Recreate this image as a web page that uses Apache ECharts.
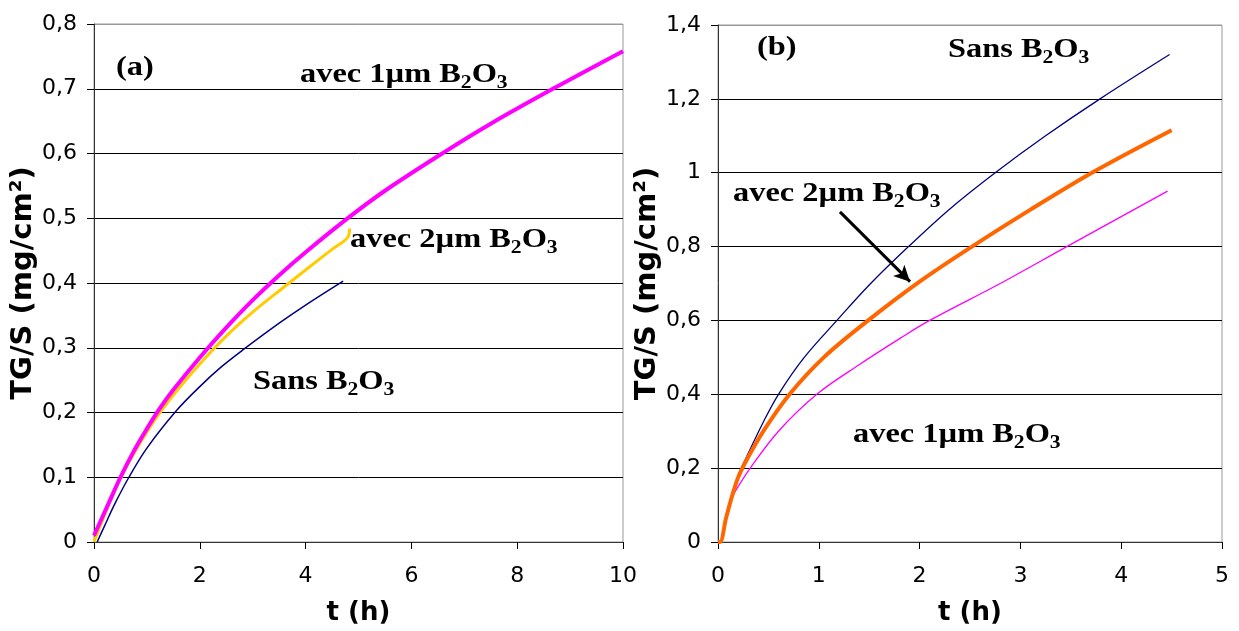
<!DOCTYPE html>
<html>
<head>
<meta charset="utf-8">
<script src="https://cdn.jsdelivr.net/npm/echarts@6/dist/echarts.min.js"></script>
<style>html,body{margin:0;padding:0;background:#fff;}#c{width:1239px;height:631px;}</style>
</head>
<body>
<div id="c"></div>
<script>
// ---- Panel (a) data: [t (h), TG/S (mg/cm²)]
const aAvec1um = [[0,0.01],[0.25,0.055],[0.5,0.1],[0.75,0.14],[1,0.175],[1.25,0.207],[1.5,0.235],[2,0.285],[2.5,0.331],[3,0.3735],[3.5,0.412],[4,0.4475],[4.78,0.499],[5.5,0.5425],[6.6,0.601],[7.5,0.646],[8.7,0.701],[10,0.758]];
const aAvec2um = [[0,0],[0.25,0.052],[0.5,0.098],[0.75,0.136],[1,0.17],[1.25,0.2],[1.5,0.227],[2,0.275],[2.5,0.318],[3,0.355],[3.58,0.393],[4,0.42],[4.5,0.452],[4.8,0.471],[4.83,0.484]];
const aSans = [[0.06,0],[0.2,0.025],[0.4,0.06],[0.66,0.1],[1,0.145],[1.56,0.203],[2,0.24],[2.4,0.27],[2.82,0.297],[3.5,0.338],[4,0.366],[4.71,0.403]];
// ---- Panel (b) data
const bSans = [[0,0],[0.02,0],[0.08,0.065],[0.14,0.13],[0.2,0.18],[0.3,0.24],[0.45,0.325],[0.6,0.4],[0.85,0.498],[1.18,0.6],[1.5,0.696],[1.89,0.8],[2.3,0.902],[2.75,1.0],[3.25,1.1],[3.79,1.2],[4.48,1.32]];
const bAvec2um = [[0,0],[0.02,0],[0.08,0.065],[0.14,0.125],[0.2,0.175],[0.28,0.22],[0.45,0.3],[0.71,0.4],[1.05,0.5],[1.49,0.6],[2.0,0.705],[2.52,0.8],[3.1,0.9],[3.71,1.0],[4.5,1.115]];
const bAvec1um = [[0,0],[0.02,0],[0.08,0.065],[0.13,0.115],[0.2,0.15],[0.32,0.2],[0.6,0.3],[0.98,0.4],[1.4,0.48],[1.81,0.552],[2.1,0.6],[2.8,0.7],[3.46,0.8],[4.46,0.95]];
const arrowFrom = [1.21, 0.894];
const arrowTo = [1.905, 0.705];
// ---- axis settings
const aX = {min:0, max:10, interval:2};
const aY = {min:0, max:0.8, interval:0.1};
const bX = {min:0, max:5, interval:1};
const bY = {min:0, max:1.4, interval:0.2};
const xName = 't (h)';
const yName = 'TG/S (mg/cm²)';

const fmt = v => String(+v.toFixed(2)).replace('.', ',');
const labelStyle = {fontFamily:'DejaVu Sans', fontSize:22, color:'#000'};
const nameStyle = {fontFamily:'DejaVu Sans', fontSize:26, fontWeight:'bold', color:'#000'};
const yNameStyle = {fontFamily:'DejaVu Sans', fontSize:29, fontWeight:'bold', color:'#000'};

function xAxis(grid, s){
  return {type:'value', gridIndex:grid, min:s.min, max:s.max, interval:s.interval,
    name:xName, nameLocation:'middle', nameGap:58, nameTextStyle:nameStyle,
    axisLine:{show:true, onZero:false, lineStyle:{color:'#333', width:1}},
    axisTick:{show:true, inside:false, length:7, lineStyle:{color:'#000'}},
    axisLabel:{...labelStyle, margin:23, formatter:fmt},
    splitLine:{show:false}};
}
function yAxis(grid, s, n, gap){
  const cols = [];
  for (let i=0;i<n;i++) cols.push(i===n-1 ? '#999' : '#000');
  return {type:'value', gridIndex:grid, min:s.min, max:s.max, interval:s.interval,
    name:yName, nameLocation:'middle', nameRotate:90, nameGap:gap, nameTextStyle:yNameStyle,
    axisLine:{show:true, onZero:false, lineStyle:{color:'#333', width:1}},
    axisTick:{show:true, inside:false, length:7, lineStyle:{color:'#000'}},
    axisLabel:{...labelStyle, margin:17, formatter:fmt},
    splitLine:{show:true, lineStyle:{color:cols, width:1}}};
}
function line(name, data, color, width, xi, yi, extra){
  return Object.assign({type:'line', name, data, xAxisIndex:xi, yAxisIndex:yi, smooth:0.35,
    showSymbol:false, symbol:'none', lineStyle:{color, width}, itemStyle:{color}, z:3, animation:false}, extra||{});
}

const serif = 'Liberation Serif';
const rich = {
  m:{fontFamily:serif, fontSize:27, fontWeight:'bold', color:'#000', lineHeight:30, verticalAlign:'top'},
  s:{fontFamily:serif, fontSize:18, fontWeight:'bold', color:'#000', lineHeight:18, verticalAlign:'bottom'}
};
function lbl(text, x, y){
  return {type:'text', x:x, y:y, scaleX:1.2, scaleY:1, z:10, style:{text, rich, font:'bold 27px '+serif}};
}

const chart = echarts.init(document.getElementById('c'), null, {renderer:'canvas'});
chart.setOption({
  animation:false,
  backgroundColor:'#fff',
  grid:[
    {left:94, top:24, width:529, height:518, show:true, borderColor:'#999', borderWidth:1, backgroundColor:'#fff'},
    {left:718, top:25, width:504, height:520, show:true, borderColor:'#999', borderWidth:1, backgroundColor:'#fff'}
  ],
  xAxis:[xAxis(0,aX), xAxis(1,bX)],
  yAxis:[yAxis(0,aY,9,56), yAxis(1,bY,8,55)],
  series:[
    line('Sans B2O3 (a)', aSans, '#000080', 1.5, 0, 0),
    line('avec 2µm B2O3 (a)', aAvec2um, '#FFCC00', 3, 0, 0),
    line('avec 1µm B2O3 (a)', aAvec1um, '#FF00FF', 4, 0, 0),
    line('Sans B2O3 (b)', bSans, '#000080', 1.3, 1, 1),
    line('avec 1µm B2O3 (b)', bAvec1um, '#FF00FF', 1.3, 1, 1),
    line('avec 2µm B2O3 (b)', bAvec2um, '#FF6600', 4, 1, 1, {
      markLine:{silent:true, symbol:['none','arrow'], symbolSize:[12,16], label:{show:false},
        lineStyle:{color:'#000', width:3, type:'solid'},
        data:[[{coord:arrowFrom},{coord:arrowTo}]]}
    })
  ],
  graphic:[
    lbl('{m|(a)}', 116, 55),
    lbl('{m|avec 1µm B}{s|2}{m|O}{s|3}', 300, 62),
    lbl('{m|avec 2µm B}{s|2}{m|O}{s|3}', 350, 227),
    lbl('{m|Sans B}{s|2}{m|O}{s|3}', 253, 369),
    lbl('{m|(b)}', 757, 35),
    lbl('{m|Sans B}{s|2}{m|O}{s|3}', 948, 37),
    lbl('{m|avec 2µm B}{s|2}{m|O}{s|3}', 733, 181),
    lbl('{m|avec 1µm B}{s|2}{m|O}{s|3}', 853, 422)
  ]
});
</script>
</body>
</html>
